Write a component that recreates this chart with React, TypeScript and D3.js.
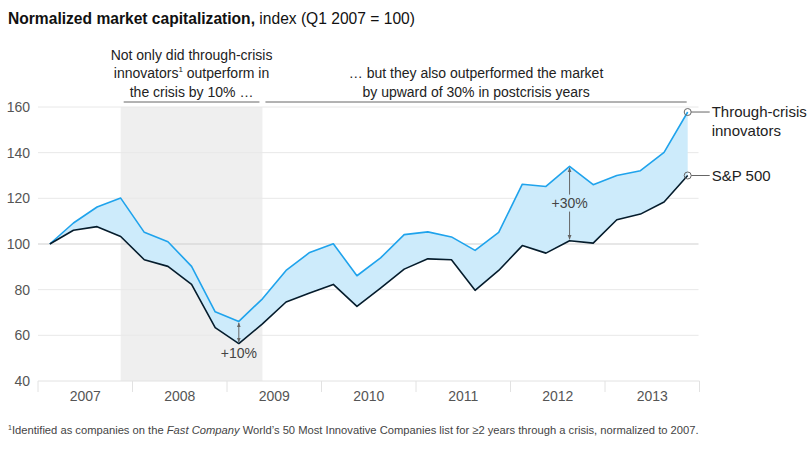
import React from "react";
import * as d3 from "d3";

const quarters = d3.range(28);
const innovators = [100, 109.2, 116.2, 120.1, 105.1, 101, 90.2, 70.3, 66.1, 76, 88.4, 96.3, 100.1, 86.1, 93.9, 104.1, 105.3, 103.1, 97.2, 105.1, 126.2, 125.2, 134, 126, 130, 132.1, 140.1, 157.8];
const sp500 = [100, 106, 107.6, 103.3, 93.1, 90.2, 82.3, 63.4, 56.4, 65, 74.6, 78.5, 82.3, 72.7, 80.7, 89, 93.5, 93.1, 79.7, 88.4, 99.3, 96, 101.4, 100.4, 110.6, 113.1, 118.4, 130];
const years = ["2007", "2008", "2009", "2010", "2011", "2012", "2013"];
const yTicks = [40, 60, 80, 100, 120, 140, 160];
const crisisStart = 3;
const crisisEnd = 9;
const arrow10 = 8;
const arrow30 = 22;

const FONT = "'Liberation Sans', Arial, sans-serif";
const BLUE = "#1fa3ec";
const NAVY = "#051c2c";
const AREA = "#cdebfb";

export default function App() {
  const left = 38, right = 699.5, top = 107, bottom = 381;
  const x = d3.scaleBand<number>().domain(quarters).range([left, right]);
  const xYear = d3.scaleBand<string>().domain(years).range([left, right]);
  const y = d3.scaleLinear().domain([40, 160]).range([bottom, top]);
  const cx = (q: number) => (x(q) as number) + x.bandwidth() / 2;

  const area = d3.area<number>().x((q) => cx(q)).y0((q) => y(sp500[q])).y1((q) => y(innovators[q]));
  const lineI = d3.line<number>().x((q) => cx(q)).y((q) => y(innovators[q]));
  const lineS = d3.line<number>().x((q) => cx(q)).y((q) => y(sp500[q]));

  const a10x = cx(arrow10);
  const a30x = cx(arrow30);
  const a30mid = (y(innovators[arrow30]) + y(sp500[arrow30])) / 2;
  const lastQ = quarters[quarters.length - 1];
  const lx = cx(lastQ);

  const leftAnnoX0 = cx(crisisStart) + 3;
  const leftAnnoX1 = cx(crisisEnd) - 3;
  const rightAnnoX0 = cx(crisisEnd) + 3;
  const rightAnnoX1 = lx - 1;

  return (
    <svg width={810} height={454} style={{ position: "absolute", left: 0, top: 0, display: "block" }} fontFamily={FONT}>
      <defs>
        <marker id="ah" viewBox="0 0 10 10" refX="9" refY="5" markerWidth="5" markerHeight="5" orient="auto-start-reverse">
          <path d="M0,1 L10,5 L0,9 z" fill="#666" />
        </marker>
      </defs>
      <rect width={810} height={454} fill="#fff" />
      <text x={8} y={24} fontSize={15.6} fill="#111">
        <tspan fontWeight="bold">Normalized market capitalization,</tspan>
        <tspan> index (Q1 2007 = 100)</tspan>
      </text>

      {/* crisis shade */}
      <rect x={cx(crisisStart)} y={top} width={cx(crisisEnd) - cx(crisisStart)} height={bottom - top} fill="#efefef" />

      {/* gridlines */}
      {yTicks.filter((t) => t !== 40).map((t) => (
        <line key={t} x1={left} x2={right - 1} y1={y(t)} y2={y(t)} stroke={t === 100 ? "#cfcfcf" : "#e8e8e8"} strokeWidth={1} />
      ))}
      {yTicks.map((t) => (
        <text key={"l" + t} x={30} y={y(t)} dy="0.35em" textAnchor="end" fontSize={14} fill="#555">{t}</text>
      ))}

      {/* x axis */}
      <line x1={left} x2={right} y1={bottom} y2={bottom} stroke="#e2e2e2" />
      {years.concat(["end"]).map((yr, i) => {
        const xx = i < years.length ? (xYear(yr) as number) : right;
        return <line key={"t" + i} x1={xx} x2={xx} y1={bottom} y2={bottom + 11} stroke="#e2e2e2" />;
      })}
      {years.map((yr) => (
        <text key={yr} x={(xYear(yr) as number) + xYear.bandwidth() / 2} y={401} textAnchor="middle" fontSize={14} fill="#555">{yr}</text>
      ))}

      {/* area and lines */}
      <path d={area(quarters) as string} fill={AREA} />
      <path d={lineI(quarters) as string} fill="none" stroke={BLUE} strokeWidth={1.6} strokeLinejoin="round" />
      <path d={lineS(quarters) as string} fill="none" stroke={NAVY} strokeWidth={1.6} strokeLinejoin="round" />

      {/* +10% arrow */}
      <line x1={a10x} x2={a10x} y1={y(innovators[arrow10]) + 1.5} y2={y(sp500[arrow10]) - 1.5} stroke="#666" strokeWidth={1} markerStart="url(#ah)" markerEnd="url(#ah)" />
      <text x={a10x} y={358} textAnchor="middle" fontSize={14} fill="#444">+10%</text>

      {/* +30% arrow */}
      <line x1={a30x} x2={a30x} y1={y(innovators[arrow30]) + 1.5} y2={y(sp500[arrow30]) - 1.5} stroke="#666" strokeWidth={1} markerStart="url(#ah)" markerEnd="url(#ah)" />
      <rect x={a30x - 20} y={a30mid - 9} width={40} height={17} fill={AREA} />
      <text x={a30x} y={a30mid} dy="0.35em" textAnchor="middle" fontSize={14} fill="#444">+30%</text>

      {/* annotations */}
      <text textAnchor="middle" fontSize={14} fill="#222">
        <tspan x={(leftAnnoX0 + leftAnnoX1) / 2} y={60}>Not only did through-crisis</tspan>
        <tspan x={(leftAnnoX0 + leftAnnoX1) / 2} y={78}>innovators<tspan fontSize={8} dy={-6}>1</tspan><tspan dy={6}> outperform in</tspan></tspan>
        <tspan x={(leftAnnoX0 + leftAnnoX1) / 2} y={97}>the crisis by 10% …</tspan>
      </text>
      <line x1={leftAnnoX0} x2={leftAnnoX1} y1={102} y2={102} stroke="#666" />
      <text textAnchor="middle" fontSize={14} fill="#222">
        <tspan x={(rightAnnoX0 + rightAnnoX1) / 2} y={78}>… but they also outperformed the market</tspan>
        <tspan x={(rightAnnoX0 + rightAnnoX1) / 2} y={97}>by upward of 30% in postcrisis years</tspan>
      </text>
      <line x1={rightAnnoX0} x2={rightAnnoX1} y1={102} y2={102} stroke="#666" />

      {/* legend */}
      <circle cx={lx} cy={y(innovators[lastQ])} r={3.5} fill="none" stroke="#666" strokeWidth={1} />
      <circle cx={lx} cy={y(sp500[lastQ])} r={3.5} fill="none" stroke="#666" strokeWidth={1} />
      <line x1={lx + 3.5} x2={lx + 22} y1={y(innovators[lastQ])} y2={y(innovators[lastQ])} stroke="#666" />
      <line x1={lx + 3.5} x2={lx + 22} y1={y(sp500[lastQ])} y2={y(sp500[lastQ])} stroke="#666" />
      <text fontSize={15} fill="#222">
        <tspan x={lx + 24} y={117}>Through-crisis</tspan>
        <tspan x={lx + 24} y={135.5}>innovators</tspan>
      </text>
      <text x={lx + 24} y={180.5} fontSize={15} fill="#222">S&amp;P 500</text>

      {/* footnote */}
      <text x={8} y={434} fontSize={11.2} fill="#444">
        <tspan fontSize={7} dy={-4}>1</tspan>
        <tspan dy={4}>Identified as companies on the </tspan>
        <tspan fontStyle="italic">Fast Company</tspan>
        <tspan> World’s 50 Most Innovative Companies list for ≥2 years through a crisis, normalized to 2007.</tspan>
      </text>
    </svg>
  );
}
